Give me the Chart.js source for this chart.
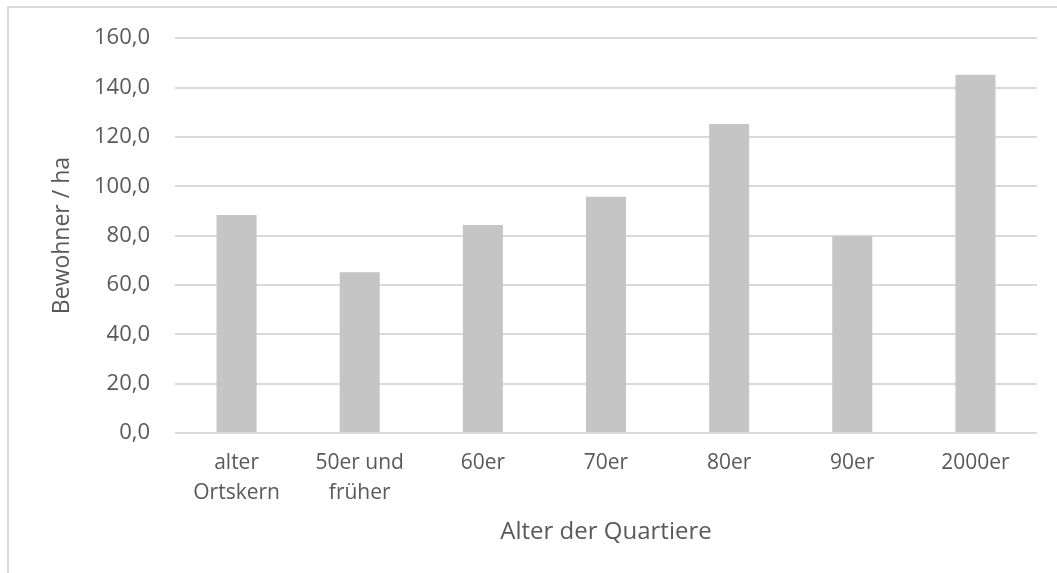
<!DOCTYPE html>
<html>
<head>
<meta charset="utf-8">
<script src="https://cdn.jsdelivr.net/npm/chart.js@4/dist/chart.umd.min.js"></script>
<style>
  html, body { margin: 0; padding: 0; background: #fff; overflow: hidden; }
  #frame { position: absolute; left: 7px; top: 6px; width: 1100px; height: 600px; border: 2px solid #d9d9d9; box-sizing: border-box; }
  #chart { position: absolute; left: 0; top: 0; }
</style>
</head>
<body>
<div id="frame"></div>
<canvas id="chart" width="1057" height="573"></canvas>
<script>
// Alter der Quartiere -> Bewohner pro Hektar
var categories = [["alter", "Ortskern"], ["50er und", "früher"], "60er", "70er", "80er", "90er", "2000er"];
var bewohnerProHa = [88.3, 65.1, 84.3, 95.7, 125.2, 79.7, 145.2];
var yTicks = [0, 20, 40, 60, 80, 100, 120, 140, 160];

var textColor = "#595959";
var fontFamily = "'Open Sans', sans-serif";

var ctx = document.getElementById("chart");

var chart = new Chart(ctx, {
    type: "bar",
    data: {
        labels: categories,
        datasets: [{
            data: bewohnerProHa,
            backgroundColor: "#c5c5c5",
            borderWidth: 0,
            categoryPercentage: 1,
            barPercentage: 0.325
        }]
    },
    options: {
        responsive: false,
        animation: false,
        layout: { padding: { top: 35, right: 20, left: 0, bottom: 0 } },
        plugins: {
            legend: { display: false },
            tooltip: { enabled: false }
        },
        scales: {
            x: {
                grid: { display: false, drawTicks: false },
                border: { display: false },
                ticks: {
                    color: textColor,
                    padding: 15,
                    maxRotation: 0,
                    autoSkip: false,
                    font: { family: fontFamily, size: 21, lineHeight: 1.42 }
                },
                title: {
                    display: true,
                    text: "Alter der Quartiere",
                    color: textColor,
                    padding: { top: 0, bottom: 26 },
                    font: { family: fontFamily, size: 24 }
                },
                afterFit: function (scale) { scale.height = 140; }
            },
            y: {
                min: 0,
                max: 160,
                afterBuildTicks: function (scale) {
                    scale.ticks = yTicks.map(function (v) { return { value: v }; });
                },
                grid: { color: "#d9d9d9", lineWidth: 2, drawTicks: false },
                border: { display: false },
                ticks: {
                    color: textColor,
                    padding: 25,
                    font: { family: fontFamily, size: 22 },
                    callback: function (v) { return v.toFixed(1).replace(".", ","); }
                },
                title: {
                    display: true,
                    text: "Bewohner / ha",
                    color: textColor,
                    padding: { top: 49, bottom: 0 },
                    font: { family: fontFamily, size: 23 }
                },
                afterFit: function (scale) { scale.width = 175; }
            }
        }
    }
});
</script>
</body>
</html>
